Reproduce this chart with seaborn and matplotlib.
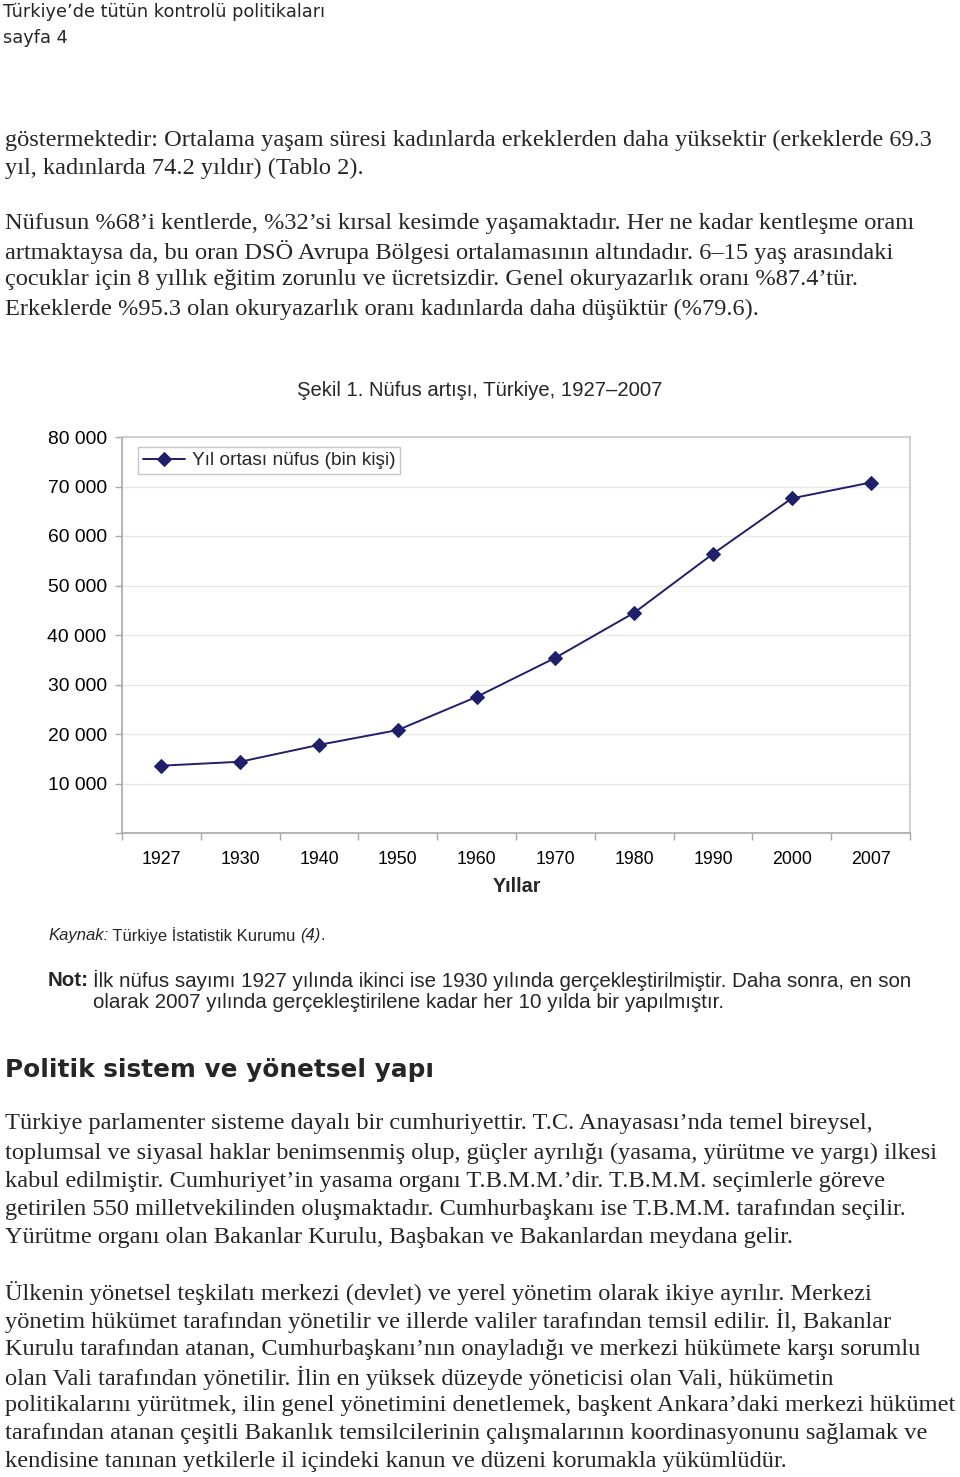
import numpy as np
import pandas as pd
import matplotlib
matplotlib.use("Agg")
import matplotlib.pyplot as plt
import seaborn as sns
from matplotlib.ticker import FuncFormatter, FixedLocator

# ---------------- data ----------------
years = ["1927", "1930", "1940", "1950", "1960", "1970", "1980", "1990", "2000", "2007"]
population = [13600, 14400, 17800, 20800, 27500, 35400, 44500, 56400, 67600, 70800]
series_label = "Yıl ortası nüfus (bin kişi)"
y_ticks = [0, 10000, 20000, 30000, 40000, 50000, 60000, 70000, 80000]
chart_title = "Şekil 1. Nüfus artışı, Türkiye, 1927–2007"
x_title = "Yıllar"

header_lines = ["Türkiye’de tütün kontrolü politikaları", "sayfa 4"]
para1 = [
    "göstermektedir: Ortalama yaşam süresi kadınlarda erkeklerden daha yüksektir (erkeklerde 69.3",
    "yıl, kadınlarda 74.2 yıldır) (Tablo 2).",
]
para2 = [
    "Nüfusun %68’i kentlerde, %32’si kırsal kesimde yaşamaktadır. Her ne kadar kentleşme oranı",
    "artmaktaysa da, bu oran DSÖ Avrupa Bölgesi ortalamasının altındadır. 6–15 yaş arasındaki",
    "çocuklar için 8 yıllık eğitim zorunlu ve ücretsizdir. Genel okuryazarlık oranı %87.4’tür.",
    "Erkeklerde %95.3 olan okuryazarlık oranı kadınlarda daha düşüktür (%79.6).",
]
section_title = "Politik sistem ve yönetsel yapı"
para3 = [
    "Türkiye parlamenter sisteme dayalı bir cumhuriyettir. T.C. Anayasası’nda temel bireysel,",
    "toplumsal ve siyasal haklar benimsenmiş olup, güçler ayrılığı (yasama, yürütme ve yargı) ilkesi",
    "kabul edilmiştir. Cumhuriyet’in yasama organı T.B.M.M.’dir. T.B.M.M. seçimlerle göreve",
    "getirilen 550 milletvekilinden oluşmaktadır. Cumhurbaşkanı ise T.B.M.M. tarafından seçilir.",
    "Yürütme organı olan Bakanlar Kurulu, Başbakan ve Bakanlardan meydana gelir.",
]
para4 = [
    "Ülkenin yönetsel teşkilatı merkezi (devlet) ve yerel yönetim olarak ikiye ayrılır. Merkezi",
    "yönetim hükümet tarafından yönetilir ve illerde valiler tarafından temsil edilir. İl, Bakanlar",
    "Kurulu tarafından atanan, Cumhurbaşkanı’nın onayladığı ve merkezi hükümete karşı sorumlu",
    "olan Vali tarafından yönetilir. İlin en yüksek düzeyde yöneticisi olan Vali, hükümetin",
    "politikalarını yürütmek, ilin genel yönetimini denetlemek, başkent Ankara’daki merkezi hükümet",
    "tarafından atanan çeşitli Bakanlık temsilcilerinin çalışmalarının koordinasyonunu sağlamak ve",
    "kendisine tanınan yetkilerle il içindeki kanun ve düzeni korumakla yükümlüdür.",
]
source_runs = [("Kaynak:", "italic"), (" Türkiye İstatistik Kurumu ", "normal"), ("(4)", "italic"), (".", "normal")]
note_head = "Not:"
note_lines = [
    "İlk nüfus sayımı 1927 yılında ikinci ise 1930 yılında gerçekleştirilmiştir. Daha sonra, en son",
    "olarak 2007 yılında gerçekleştirilene kadar her 10 yılda bir yapılmıştır.",
]

# ---------------- style ----------------
sns.set_theme(style="white")
plt.rcParams["font.family"] = ["Liberation Sans", "DejaVu Sans"]

W, H = 960, 1477
fig = plt.figure(figsize=(W / 100, H / 100), dpi=100)
fig.patch.set_facecolor("white")


def P(x, y):
    return x / W, 1 - y / H


SERIF = ["Liberation Serif", "DejaVu Serif"]
SANS = ["Liberation Sans", "DejaVu Sans"]
body_size = 17.6

# header
fig.text(*P(3, 12), header_lines[0], family=["DejaVu Sans"], fontsize=12.8, va="center", ha="left")
fig.text(*P(3, 38), header_lines[1], family=["DejaVu Sans"], fontsize=12.8, va="center", ha="left")

# paragraphs
for lines, ys in [(para1, [140, 168]), (para2, [223, 252, 280, 309]),
                  (para3, [1124, 1153, 1181, 1209, 1237]),
                  (para4, [1293, 1321, 1349, 1378, 1406, 1434, 1462])]:
    for s, y in zip(lines, ys):
        fig.text(*P(5, y), s, family=SERIF, fontsize=body_size, va="center", ha="left")

fig.text(*P(5, 1070), section_title, family=["DejaVu Sans"], fontweight="bold",
         fontsize=17.8, va="center", ha="left")

# chart title
fig.text(*P(297, 390), chart_title, family=SANS, fontsize=14.6, va="center", ha="left")

# ---------------- chart ----------------
ax_left, ax_right, ax_top, ax_bottom = 122, 910, 437, 833
ax = fig.add_axes([ax_left / W, 1 - ax_bottom / H, (ax_right - ax_left) / W, (ax_bottom - ax_top) / H])
ax.set_facecolor("white")

df = pd.DataFrame({"pos": np.arange(len(years)), "year": years, "population": population})
navy = "#1f1f6b"
sns.lineplot(data=df, x="pos", y="population", ax=ax, color=navy, linewidth=1.4,
             marker="D", markersize=7.5, markeredgecolor=navy, markerfacecolor=navy,
             label=series_label, legend=False)

ax.set_xlim(-0.5, len(years) - 0.5)
ax.set_ylim(y_ticks[0], y_ticks[-1])
ax.xaxis.set_major_locator(FixedLocator(list(range(len(years)))))
ax.set_xticklabels(years)
ax.xaxis.set_minor_locator(FixedLocator([i - 0.5 for i in range(len(years) + 1)]))
ax.tick_params(axis="x", which="major", length=0, pad=13, labelsize=12.8, colors="black")
ax.tick_params(axis="x", which="minor", length=5, width=1, color="#a8a8a8", direction="out", bottom=True)
ax.yaxis.set_major_locator(FixedLocator(y_ticks))
ax.yaxis.set_major_formatter(FuncFormatter(lambda v, p: "" if v == 0 else f"{int(v):,}".replace(",", " ")))
ax.tick_params(axis="y", which="major", length=5, width=1, color="#a8a8a8", direction="out",
               left=True, pad=6, labelsize=13.9, labelcolor="black")
ax.set_xlabel("")
ax.set_ylabel("")
ax.grid(axis="y", color="#e8e8e8", linewidth=1)
ax.grid(axis="x", visible=False)
ax.set_axisbelow(True)
for side in ["left", "bottom"]:
    ax.spines[side].set_color("#a8a8a8")
    ax.spines[side].set_linewidth(1.2)
for side in ["top", "right"]:
    ax.spines[side].set_color("#c8c8c8")
    ax.spines[side].set_linewidth(1.2)

leg = ax.legend(loc="upper left", bbox_to_anchor=P(138, 447), bbox_transform=fig.transFigure,
                borderaxespad=0, fancybox=False, frameon=True, fontsize=13.8,
                handlelength=2.2, handletextpad=0.35, borderpad=0.25, labelspacing=0)
leg.get_frame().set_edgecolor("#b8b8b8")
leg.get_frame().set_linewidth(1.0)
leg.get_frame().set_facecolor("white")

fig.text(*P(517, 887), x_title, family=SANS, fontsize=14.2, fontweight="bold", va="center", ha="center")

# ---------------- source / note ----------------
fig.canvas.draw()
renderer = fig.canvas.get_renderer()


def runs(x, y, parts, size, family):
    for s, style in parts:
        weight = "bold" if style == "bold" else "normal"
        st = "italic" if style == "italic" else "normal"
        t = fig.text(*P(x, y), s, family=family, fontsize=size, fontstyle=st,
                     fontweight=weight, va="center", ha="left")
        bb = t.get_window_extent(renderer=renderer)
        x = x + bb.width


runs(48, 936, source_runs, 12.0, SANS)
fig.text(*P(48, 980), note_head, family=SANS, fontsize=14.8, fontweight="bold", va="center", ha="left")
fig.text(*P(93, 980), note_lines[0], family=SANS, fontsize=14.8, va="center", ha="left")
fig.text(*P(93, 1002), note_lines[1], family=SANS, fontsize=14.8, va="center", ha="left")

fig.savefig("out.png", dpi=100, facecolor="white")
